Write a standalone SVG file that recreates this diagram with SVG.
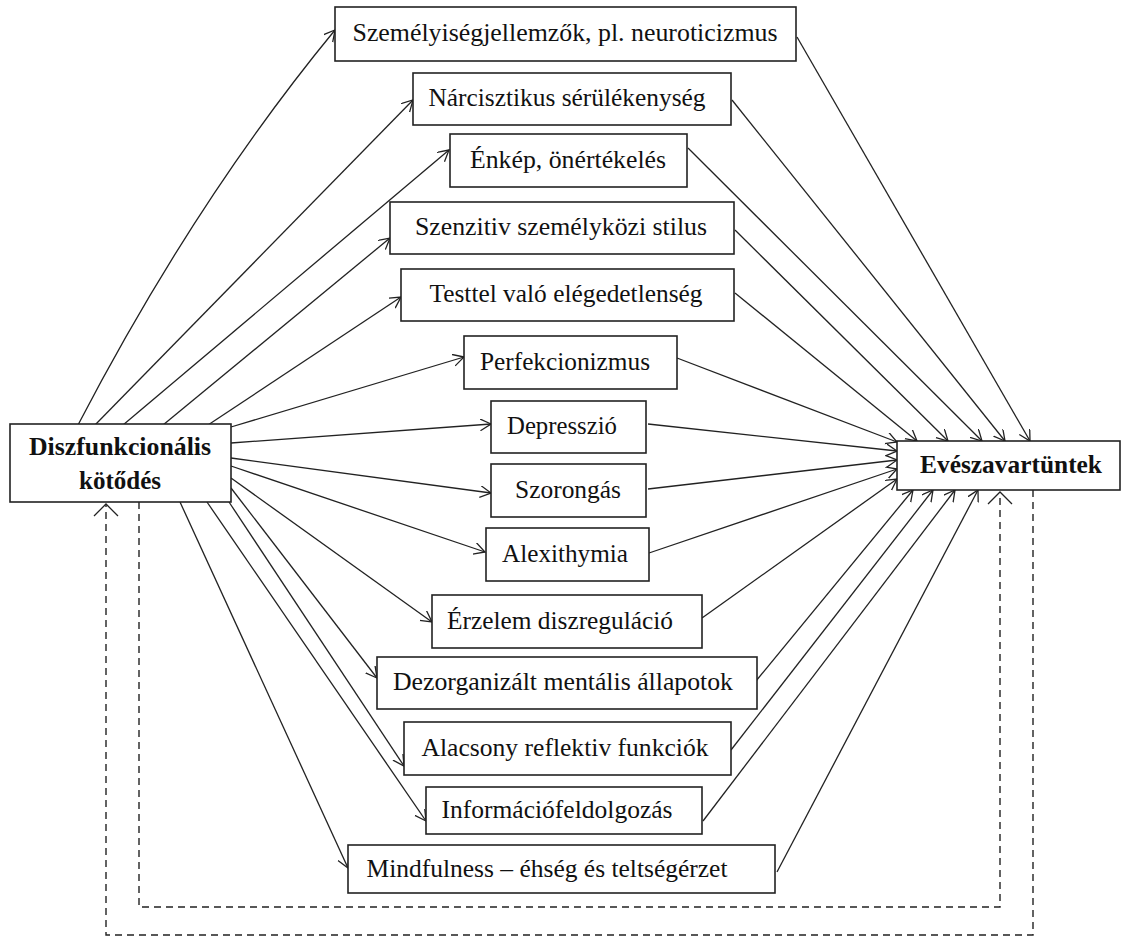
<svg xmlns="http://www.w3.org/2000/svg" width="1122" height="938" viewBox="0 0 1122 938">
<defs>
<marker id="ah" markerUnits="userSpaceOnUse" markerWidth="14" markerHeight="14" refX="11" refY="6" orient="auto">
<path d="M0,0 L11,6 L0,12" fill="none" stroke="#222" stroke-width="1.3"/>
</marker>
</defs>
<style>
.box{fill:#fff;stroke:#222;stroke-width:1.6}
.t{font-family:"Liberation Serif","Times New Roman",serif;font-size:25px;fill:#111;text-anchor:middle}
.b{font-family:"Liberation Serif","Times New Roman",serif;font-size:25px;font-weight:bold;fill:#111;text-anchor:middle}
.c{fill:none;stroke:#222;stroke-width:1.3;marker-end:url(#ah)}
.d{fill:none;stroke:#222;stroke-width:1.4;stroke-dasharray:7,5}
</style>
<rect width="1122" height="938" fill="#fff"/>
<g id="connectors">
<path class="c" d="M78,425 Q195,200 335,30"/>
<line class="c" x1="95" y1="425" x2="413" y2="100"/>
<line class="c" x1="123" y1="425" x2="449" y2="150"/>
<line class="c" x1="163" y1="425" x2="390" y2="238"/>
<line class="c" x1="208" y1="425" x2="401" y2="297"/>
<line class="c" x1="231" y1="427" x2="464" y2="357"/>
<line class="c" x1="231" y1="443" x2="491" y2="424"/>
<line class="c" x1="231" y1="458" x2="491" y2="493"/>
<line class="c" x1="231" y1="466" x2="485" y2="552"/>
<line class="c" x1="231" y1="478" x2="432" y2="622"/>
<line class="c" x1="231" y1="488" x2="377" y2="678"/>
<line class="c" x1="229" y1="502" x2="404" y2="766"/>
<line class="c" x1="207" y1="502" x2="426" y2="821"/>
<line class="c" x1="180" y1="502" x2="348" y2="868"/>
<line class="c" x1="797" y1="37" x2="1030" y2="441"/>
<line class="c" x1="732" y1="100" x2="1005" y2="441"/>
<line class="c" x1="688" y1="148" x2="982" y2="441"/>
<line class="c" x1="735" y1="230" x2="948" y2="441"/>
<line class="c" x1="735" y1="293" x2="917" y2="441"/>
<line class="c" x1="677" y1="358" x2="897" y2="442"/>
<line class="c" x1="648" y1="424" x2="897" y2="451"/>
<line class="c" x1="648" y1="489" x2="897" y2="460"/>
<line class="c" x1="649" y1="553" x2="897" y2="469"/>
<line class="c" x1="702" y1="618" x2="897" y2="479"/>
<line class="c" x1="756" y1="681" x2="913" y2="490"/>
<line class="c" x1="731" y1="750" x2="933" y2="490"/>
<line class="c" x1="703" y1="821" x2="955" y2="490"/>
<line class="c" x1="777" y1="872" x2="978" y2="490"/>
<path class="d" d="M139,502 V907 H1000 V492"/>
<path class="d" d="M1033,490 V935 H106 V504"/>
<path d="M94,516 L106,504 L118,516" fill="none" stroke="#222" stroke-width="1.3"/>
<path d="M988,504 L1000,492 L1012,504" fill="none" stroke="#222" stroke-width="1.3"/>
</g>
<g id="n-source"><rect class="box" x="10" y="424" width="221" height="78"/><text class="b" x="120" y="455" textLength="182" lengthAdjust="spacingAndGlyphs">Diszfunkcionális</text><text class="b" x="120" y="489">kötődés</text></g>
<g id="n-target"><rect class="box" x="897" y="441" width="223" height="49"/><text class="b" x="1011" y="473" textLength="182" lengthAdjust="spacingAndGlyphs">Evészavartüntek</text></g>
<g id="n1"><rect class="box" x="335" y="7" width="461" height="54"/><text class="t" x="565" y="41" textLength="425" lengthAdjust="spacingAndGlyphs">Személyiségjellemzők,  pl. neuroticizmus</text></g>
<g id="n2"><rect class="box" x="413" y="73" width="318" height="52"/><text class="t" x="567" y="106" textLength="277" lengthAdjust="spacingAndGlyphs">Nárcisztikus sérülékenység</text></g>
<g id="n3"><rect class="box" x="450" y="134" width="237" height="53"/><text class="t" x="568" y="168" textLength="196" lengthAdjust="spacingAndGlyphs">Énkép, önértékelés</text></g>
<g id="n4"><rect class="box" x="390" y="202" width="344" height="52"/><text class="t" x="561" y="235" textLength="292" lengthAdjust="spacingAndGlyphs">Szenzitiv személyközi  stilus</text></g>
<g id="n5"><rect class="box" x="401" y="269" width="333" height="52"/><text class="t" x="566" y="302" textLength="273" lengthAdjust="spacingAndGlyphs">Testtel  való elégedetlenség</text></g>
<g id="n6"><rect class="box" x="464" y="336" width="213" height="53"/><text class="t" x="565" y="370" textLength="170" lengthAdjust="spacingAndGlyphs">Perfekcionizmus</text></g>
<g id="n7"><rect class="box" x="491" y="401" width="155" height="52"/><text class="t" x="562" y="434" textLength="110" lengthAdjust="spacingAndGlyphs">Depresszió</text></g>
<g id="n8"><rect class="box" x="491" y="464" width="155" height="53"/><text class="t" x="568" y="498" textLength="106" lengthAdjust="spacingAndGlyphs">Szorongás</text></g>
<g id="n9"><rect class="box" x="486" y="528" width="163" height="53"/><text class="t" x="565" y="562" textLength="126" lengthAdjust="spacingAndGlyphs">Alexithymia</text></g>
<g id="n10"><rect class="box" x="432" y="595" width="270" height="53"/><text class="t" x="560" y="629" textLength="226" lengthAdjust="spacingAndGlyphs">Érzelem diszreguláció</text></g>
<g id="n11"><rect class="box" x="377" y="657" width="380" height="52"/><text class="t" x="563" y="690" textLength="340" lengthAdjust="spacingAndGlyphs">Dezorganizált mentális állapotok</text></g>
<g id="n12"><rect class="box" x="404" y="722" width="327" height="53"/><text class="t" x="565" y="756" textLength="287" lengthAdjust="spacingAndGlyphs">Alacsony reflektiv funkciók</text></g>
<g id="n13"><rect class="box" x="426" y="787" width="276" height="47"/><text class="t" x="557" y="818" textLength="231" lengthAdjust="spacingAndGlyphs">Információfeldolgozás</text></g>
<g id="n14"><rect class="box" x="348" y="845" width="427" height="48"/><text class="t" x="547" y="877" textLength="361" lengthAdjust="spacingAndGlyphs">Mindfulness – éhség és teltségérzet</text></g>
</svg>
